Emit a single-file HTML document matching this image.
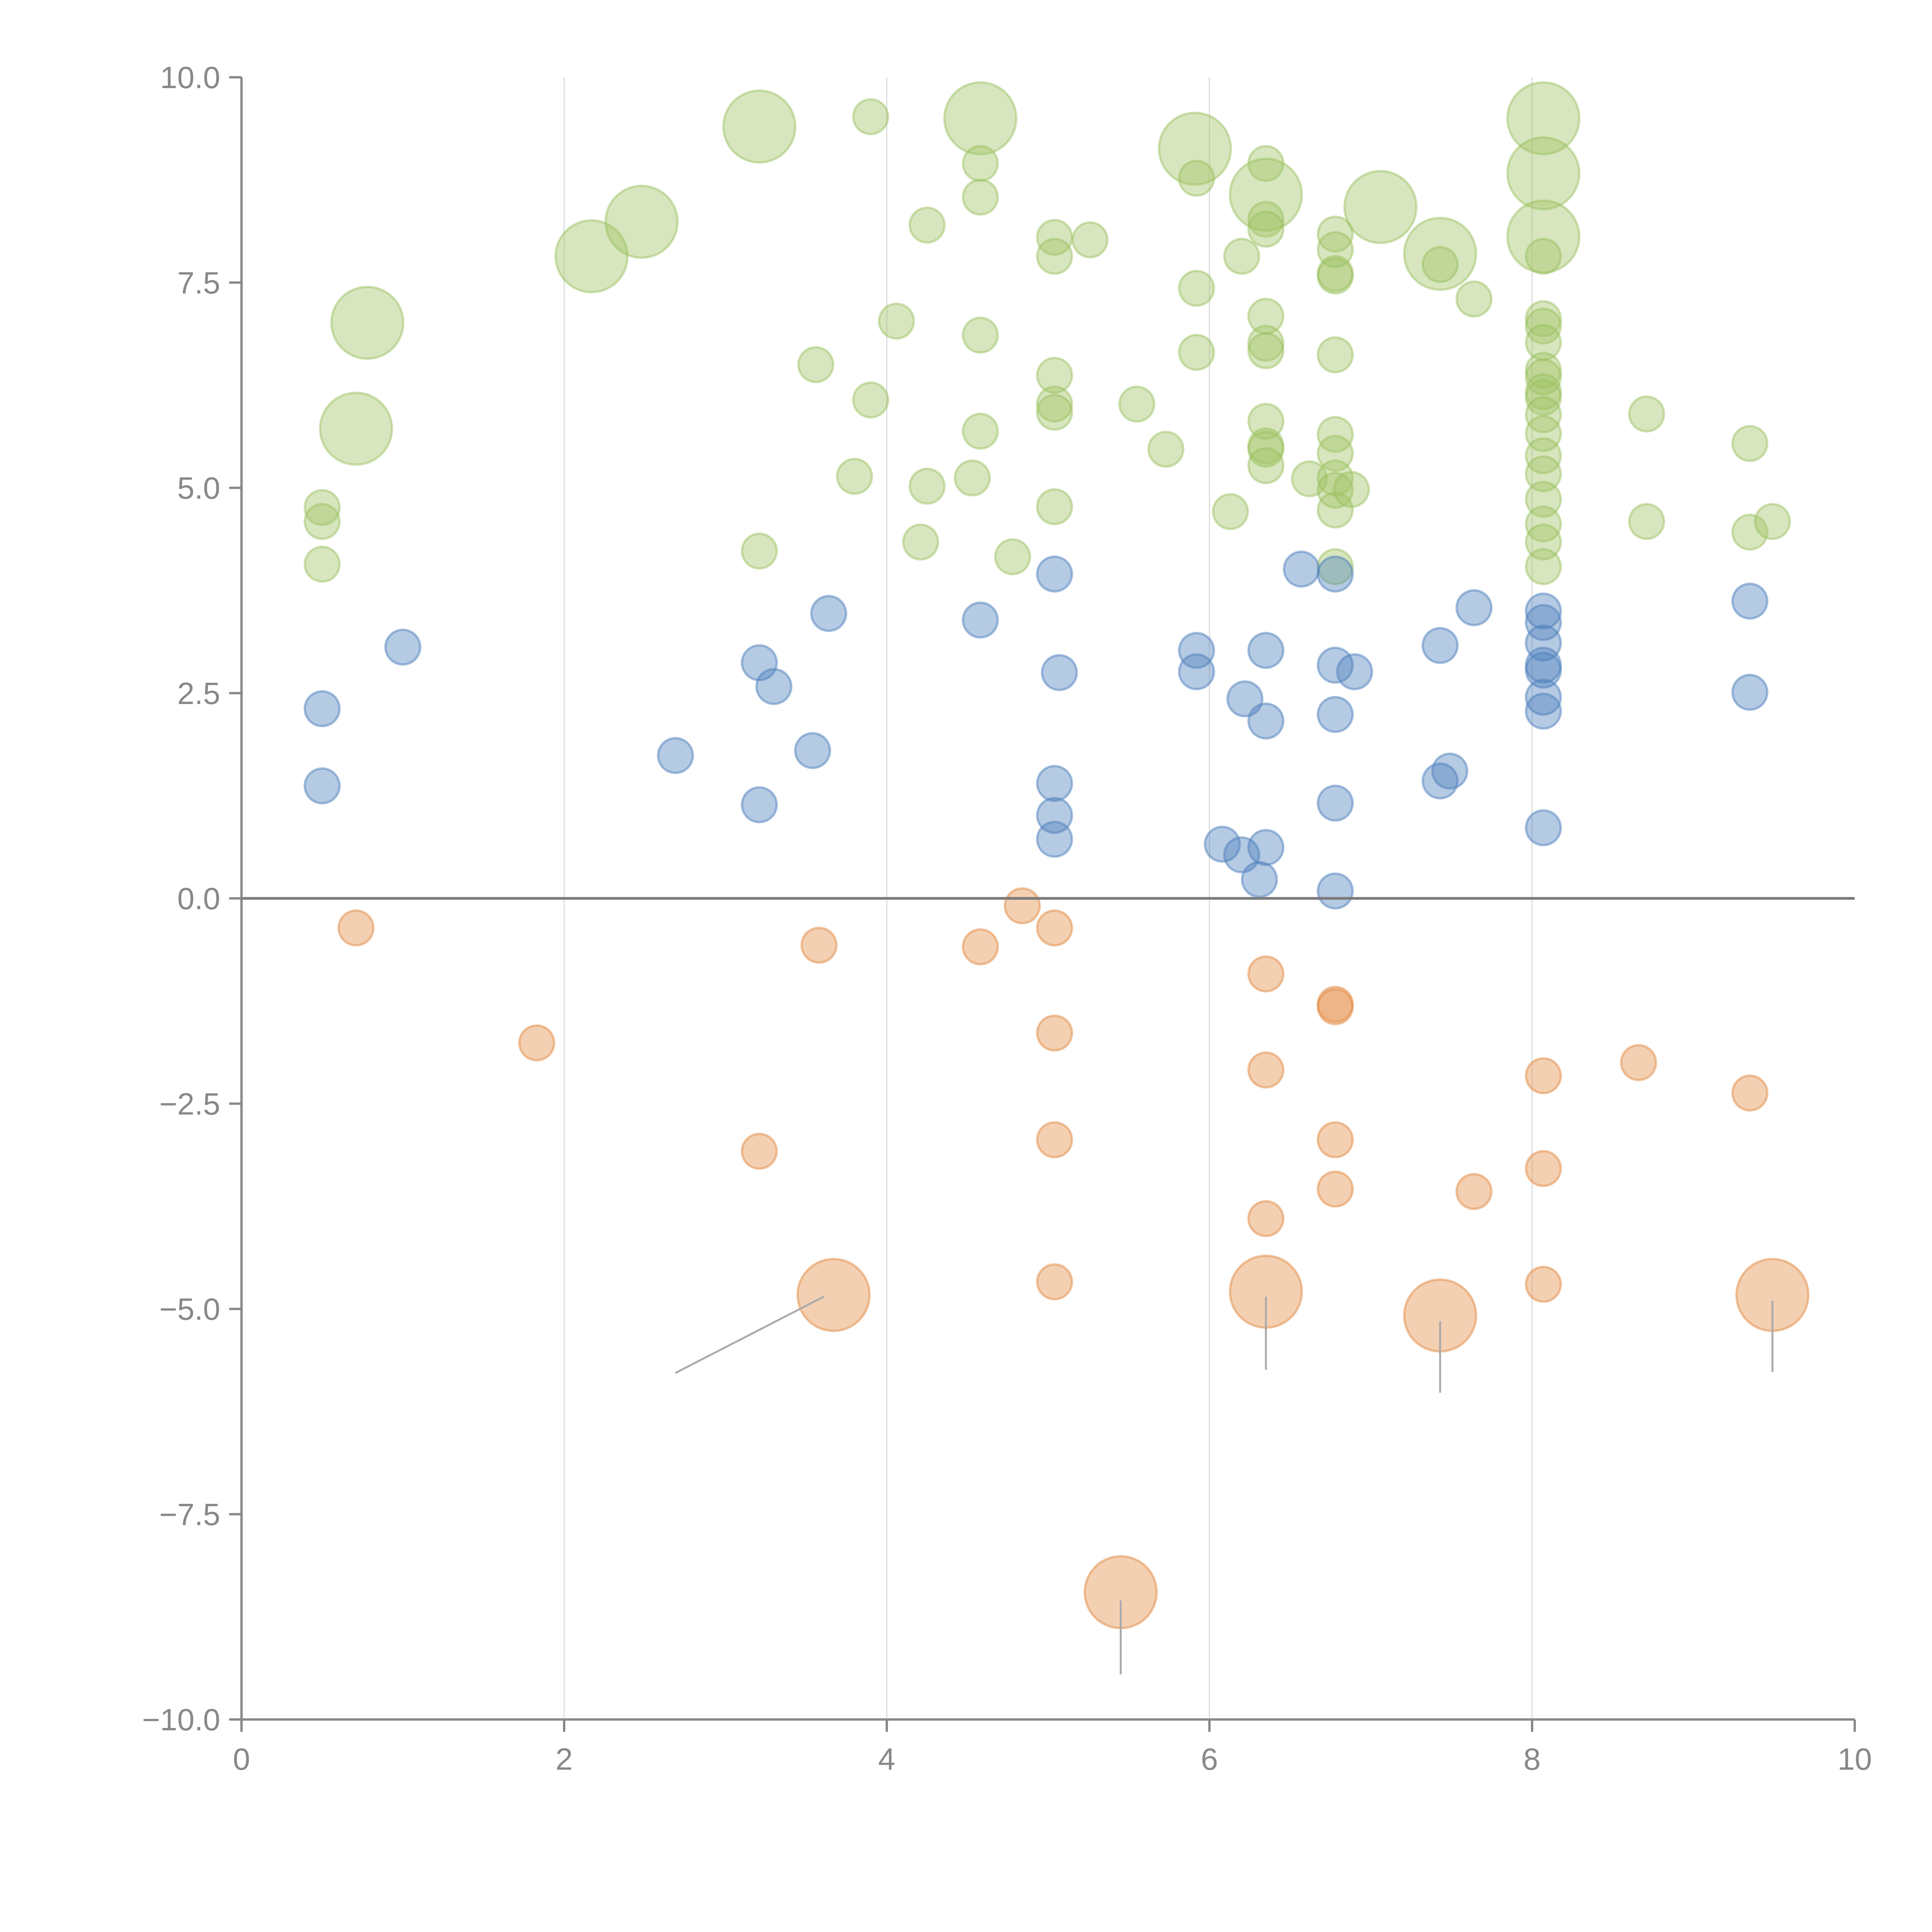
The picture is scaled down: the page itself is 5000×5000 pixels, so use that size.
<!DOCTYPE html>
<html><head><meta charset="utf-8"><style>
html,body{margin:0;padding:0;background:#fff;}
svg{display:block;}
text{font-family:"Liberation Sans",sans-serif;}
</style></head><body>
<svg id="chart" width="5000" height="5000" viewBox="0 0 5000 5000" xmlns="http://www.w3.org/2000/svg">
<g id="grid"></g>
<g id="marks"></g>
<g id="axes"></g>
</svg>
<script>
const xTicks = [0, 2, 4, 6, 8, 10];
const xTickLabels = ["0", "2", "4", "6", "8", "10"];
const yTicks = [10, 7.5, 5, 2.5, 0, -2.5, -5, -7.5, -10];
const yTickLabels = ["10.0", "7.5", "5.0", "2.5", "0.0", "\u22122.5", "\u22125.0", "\u22127.5", "\u221210.0"];

const greenX = [0.78,0.71,0.50,0.50,0.50,2.17,2.48,3.21,3.21,3.56,3.90,3.90,3.80,4.06,4.25,4.25,4.21,4.58,4.58,4.58,4.58,4.58,4.53,4.78,5.04,5.04,5.04,5.04,5.04,5.04,5.26,5.55,5.73,5.91,5.92,5.92,5.92,6.13,6.20,6.35,6.35,6.35,6.35,6.35,6.35,6.35,6.35,6.35,6.35,6.35,6.62,6.78,6.78,6.78,6.78,6.78,6.78,6.78,6.78,6.78,6.78,6.78,6.88,7.06,7.43,7.43,7.64,8.07,8.07,8.07,8.07,8.07,8.07,8.07,8.07,8.07,8.07,8.07,8.07,8.07,8.07,8.07,8.07,8.07,8.07,8.07,8.71,8.71,9.35,9.35,9.49];
const greenY = [7.01,5.72,4.76,4.59,4.07,7.82,8.24,9.40,4.23,6.50,9.52,6.07,5.14,7.03,8.20,5.02,4.34,9.50,8.95,8.54,6.86,5.69,5.12,4.16,8.05,7.82,6.37,6.02,5.92,4.77,8.02,6.02,5.47,9.13,8.77,7.43,6.65,4.71,7.82,8.95,8.57,8.27,8.15,7.09,6.76,6.67,5.81,5.51,5.47,5.27,5.11,8.09,7.90,7.61,7.58,6.62,5.65,5.42,5.12,4.97,4.73,4.04,4.98,8.42,7.85,7.72,7.30,9.50,8.83,8.06,7.82,7.06,6.97,6.77,6.43,6.35,6.17,6.10,5.89,5.66,5.39,5.17,4.86,4.56,4.34,4.04,5.90,4.59,5.54,4.46,4.59];
const greenSize = [2,2,1,1,1,2,2,2,1,1,1,1,1,1,1,1,1,2,1,1,1,1,1,1,1,1,1,1,1,1,1,1,1,2,1,1,1,1,1,1,2,1,1,1,1,1,1,1,1,1,1,1,1,1,1,1,1,1,1,1,1,1,1,2,2,1,1,2,2,2,1,1,1,1,1,1,1,1,1,1,1,1,1,1,1,1,1,1,1,1,1];

const blueX = [1.00,0.50,0.50,2.69,3.21,3.30,3.21,3.64,3.54,4.58,5.04,5.07,5.04,5.04,5.04,5.92,5.92,6.08,6.20,6.22,6.35,6.35,6.35,6.31,6.57,6.78,6.78,6.78,6.78,6.78,6.90,7.43,7.43,7.49,7.64,8.07,8.07,8.07,8.07,8.07,8.07,8.07,8.07,9.35,9.35];
const blueY = [3.06,2.31,1.37,1.74,2.87,2.58,1.14,3.47,1.80,3.39,3.95,2.75,1.40,1.01,0.72,3.02,2.76,0.66,0.53,2.43,3.02,2.16,0.62,0.23,4.01,3.95,2.84,2.24,1.16,0.09,2.76,3.08,1.43,1.55,3.54,3.50,3.36,3.11,2.84,2.78,2.45,2.28,0.86,3.62,2.51];

const orangeX = [0.71,1.83,3.21,3.58,3.67,4.58,4.84,5.04,5.04,5.04,5.04,5.45,6.35,6.35,6.35,6.35,6.78,6.78,6.78,6.78,7.43,7.64,8.07,8.07,8.07,8.66,9.35,9.49];
const orangeY = [-0.36,-1.76,-3.08,-0.57,-4.83,-0.59,-0.09,-0.36,-1.64,-2.94,-4.67,-8.45,-0.92,-2.09,-3.90,-4.79,-1.29,-1.32,-2.94,-3.54,-5.08,-3.57,-2.16,-3.29,-4.70,-2.00,-2.37,-4.83];
const orangeSize = [1,1,1,1,2,1,1,1,1,1,1,2,1,1,1,2,1,1,1,1,2,1,1,1,1,1,1,2];

const leaderFromX = [3.61,5.45,6.35,7.43,9.49];
const leaderFromY = [-4.85,-8.55,-4.85,-5.15,-4.90];
const leaderToX = [2.69,5.45,6.35,7.43,9.49];
const leaderToY = [-5.78,-9.45,-5.74,-6.02,-5.77];

const X0 = 625, X1 = 4800, Y0 = 4450, Y1 = 200;
function xs(v){ return X0 + (v - 0) / 10 * (X1 - X0); }
function ys(v){ return Y0 - (v + 10) / 20 * (Y0 - Y1); }
function rs(s){ return s === 2 ? 93 : 45; }

const NS = "http://www.w3.org/2000/svg";
function mk(tag, attrs, parent){
  const e = document.createElementNS(NS, tag);
  for (const k in attrs) e.setAttribute(k, attrs[k]);
  parent.appendChild(e);
  return e;
}
const grid = document.getElementById('grid');
const marks = document.getElementById('marks');
const axes = document.getElementById('axes');

// vertical gridlines
for (let i = 1; i < xTicks.length - 1; i++) {
  const l = mk('line', {x1: xs(xTicks[i]), x2: xs(xTicks[i]), y1: Y1, y2: Y0, stroke: '#dcdcdc', 'stroke-width': 3}, grid);
  
  
}

function drawSeries(xArr, yArr, sArr, fill, stroke, name){
  for (let i = 0; i < xArr.length; i++) {
    const c = mk('circle', {cx: xs(xArr[i]), cy: ys(yArr[i]), r: rs(sArr ? sArr[i] : 1), fill: fill, stroke: stroke, 'stroke-width': 6}, marks);
    
    
  }
}
drawSeries(greenX, greenY, greenSize, 'rgba(160,195,100,0.42)', 'rgba(150,190,90,0.45)', 'positive-bubble');
drawSeries(blueX, blueY, null, 'rgba(79,129,189,0.42)', 'rgba(79,129,189,0.5)', 'mid-bubble');
drawSeries(orangeX, orangeY, orangeSize, 'rgba(230,150,85,0.45)', 'rgba(225,140,70,0.5)', 'negative-bubble');

// leader lines
for (let i = 0; i < leaderFromX.length; i++) {
  const l = mk('line', {x1: xs(leaderFromX[i]), y1: ys(leaderFromY[i]), x2: xs(leaderToX[i]), y2: ys(leaderToY[i]), stroke: '#aaaaaa', 'stroke-width': 5}, marks);
  
  
}

// zero line
const z = mk('line', {x1: X0, x2: X1, y1: ys(0), y2: ys(0), stroke: '#7a7a7a', 'stroke-width': 7}, axes);



// axes spines
const ya = mk('line', {x1: X0, x2: X0, y1: Y1, y2: Y0 + 32, stroke: '#888', 'stroke-width': 6}, axes);


const xa = mk('line', {x1: X0 - 32, x2: X1, y1: Y0, y2: Y0, stroke: '#888', 'stroke-width': 6}, axes);



for (let i = 0; i < yTicks.length; i++) {
  const y = ys(yTicks[i]);
  const t = mk('line', {x1: X0 - 32, x2: X0, y1: y, y2: y, stroke: '#888', 'stroke-width': 6}, axes);
  
  
  const tx = mk('text', {x: X0 - 55, y: y + 28, 'text-anchor': 'end', 'font-size': 80, fill: '#888'}, axes);
  tx.textContent = yTickLabels[i];
  
  
}
for (let i = 0; i < xTicks.length; i++) {
  const x = xs(xTicks[i]);
  const t = mk('line', {x1: x, x2: x, y1: Y0, y2: Y0 + 32, stroke: '#888', 'stroke-width': 6}, axes);
  
  
  const tx = mk('text', {x: x, y: Y0 + 130, 'text-anchor': 'middle', 'font-size': 80, fill: '#888'}, axes);
  tx.textContent = xTickLabels[i];
  
  
}
</script>
</body></html>
